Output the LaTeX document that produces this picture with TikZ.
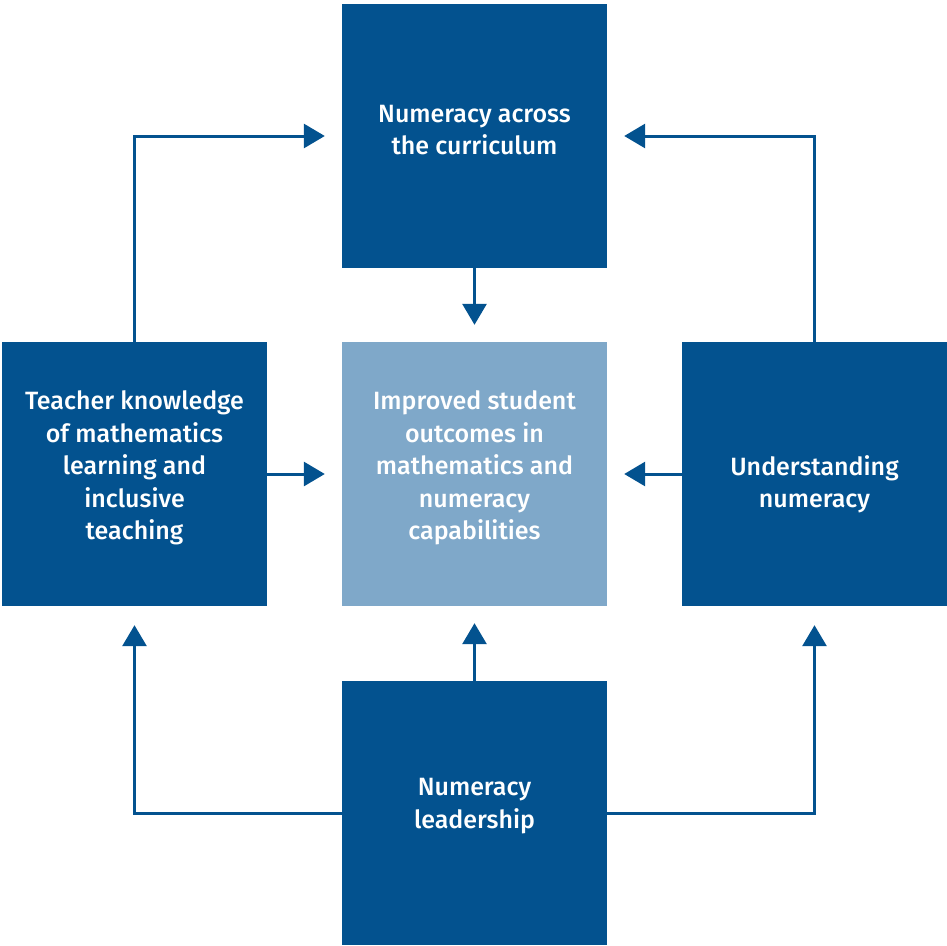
\documentclass[tikz,border=0pt]{standalone}
\usepackage{fontspec}
\setmainfont{Fira Sans Medium}
\usetikzlibrary{arrows.meta}
\definecolor{darkblue}{HTML}{03528F}
\definecolor{lightblue}{HTML}{7FA8C9}
\tikzset{
  box/.style={fill=darkblue, draw=none, minimum width=265pt, minimum height=264pt, inner sep=0pt},
  lbox/.style={box, fill=lightblue},
  lbl/.style={text=white, align=center, inner sep=0pt, font=\fontsize{25pt}{32.4pt}\selectfont},
  arr/.style={draw=darkblue, line width=3pt, -{Triangle[length=21pt,width=24pt]}}
}
\begin{document}
\begin{tikzpicture}[x=1pt,y=-1pt]
\useasboundingbox (0,0) rectangle (947,945);
\node[box] (top) at (474.5,136) {};
\node[box] (left) at (134.5,474) {};
\node[lbox] (center) at (474.5,474) {};
\node[box] (right) at (814.5,474) {};
\node[box] (bottom) at (474.5,813) {};
\node[lbl] (ttop) at (474.5,130) {Numeracy across\\the curriculum};
\node[lbl] (tleft) at (134.5,468) {Teacher knowledge\\of mathematics\\learning and\\inclusive\\teaching};
\node[lbl] (tcenter) at (474.5,468) {Improved student\\outcomes in\\mathematics and\\numeracy\\capabilities};
\node[lbl] (tright) at (814.5,484) {Understanding\\numeracy};
\node[lbl] (tbottom) at (474.5,806) {Numeracy\\leadership};
\draw[arr, shorten >=17pt] (top.south) -- (center.north);
\draw[arr, shorten >=17pt] (left.east) -- (center.west);
\draw[arr, shorten >=17pt] (right.west) -- (center.east);
\draw[arr, shorten >=17pt] (bottom.north) -- (center.south);
\draw[arr, shorten >=17pt] (left.north) |- (top.west);
\draw[arr, shorten >=17pt] (right.north) |- (top.east);
\draw[arr, shorten >=19pt] (bottom.west) -| (left.south);
\draw[arr, shorten >=19pt] (bottom.east) -| (right.south);
\end{tikzpicture}
\end{document}
